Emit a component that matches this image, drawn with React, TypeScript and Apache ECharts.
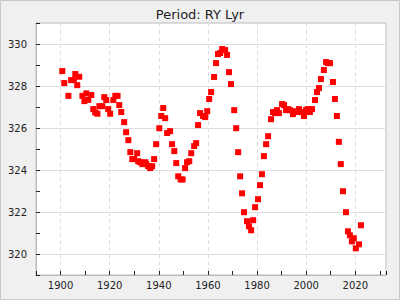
import React, { useEffect, useRef } from "react";
import * as echarts from "echarts";

const titleText = "Period: RY Lyr";

const years: number[] = [
  1900.7, 1901.5, 1903.2, 1904.3, 1905.4, 1906.0, 1906.8, 1907.6, 1908.9, 1909.7,
  1910.5, 1911.3, 1912.5, 1913.3, 1914.1, 1915.0, 1915.8, 1917.0, 1917.8, 1918.6,
  1919.4, 1920.2, 1921.5, 1922.3, 1923.2, 1923.9, 1924.7, 1925.9, 1926.7, 1927.6,
  1928.4, 1929.2, 1930.0, 1931.2, 1931.6, 1932.4, 1933.3, 1934.5, 1934.9, 1935.7,
  1936.5, 1937.3, 1938.1, 1938.9, 1940.2, 1941.0, 1941.8, 1942.6, 1943.4, 1944.6,
  1945.4, 1946.3, 1947.1, 1947.9, 1948.9, 1949.7, 1950.7, 1951.5, 1952.4, 1953.2,
  1954.4, 1955.2, 1956.0, 1956.8, 1958.0, 1958.9, 1959.7, 1960.5, 1961.3, 1962.5,
  1963.3, 1964.1, 1965.0, 1965.8, 1967.0, 1967.8, 1968.6, 1969.4, 1970.7, 1971.5,
  1972.3, 1973.1, 1973.9, 1974.7, 1975.9, 1976.7, 1977.6, 1978.4, 1979.2, 1980.4,
  1981.2, 1982.0, 1982.8, 1983.7, 1984.5, 1985.7, 1986.5, 1987.3, 1988.1, 1988.9,
  1990.2, 1991.0, 1991.8, 1992.6, 1993.4, 1994.6, 1995.4, 1996.3, 1997.1, 1997.9,
  1999.1, 1999.9, 2000.7, 2001.5, 2002.4, 2003.6, 2004.4, 2005.2, 2006.0, 2007.2,
  2008.1, 2008.9, 2009.7, 2010.9, 2011.7, 2012.5, 2013.3, 2014.1, 2015.0, 2016.2,
  2017.0, 2017.8, 2018.6, 2019.4, 2020.2, 2021.5, 2022.3,
];

const periods: number[] = [
  328.71, 328.14, 327.53, 328.28, 328.28, 328.57, 328.04, 328.44, 327.53, 327.28,
  327.65, 327.34, 327.57, 326.9, 326.74, 326.68, 327.04, 327.04, 327.47, 327.33,
  326.9, 326.68, 327.33, 327.53, 327.53, 327.09, 326.76, 326.28, 325.8, 325.42,
  324.85, 324.52, 324.52, 324.8, 324.42, 324.37, 324.28, 324.37, 324.28, 324.18,
  324.09, 324.18, 324.52, 325.23, 325.99, 326.57, 326.95, 326.47, 325.76, 325.85,
  325.23, 324.9, 324.33, 323.7, 323.55, 323.55, 324.09, 324.37, 324.42, 324.8,
  325.14, 325.28, 326.14, 326.71, 326.57, 326.52, 326.8, 327.38, 327.71, 328.43,
  329.09, 329.52, 329.57, 329.76, 329.71, 329.48, 328.66, 328.09, 326.85, 325.99,
  324.85, 323.7, 322.89, 321.99, 321.56, 321.32, 321.13, 321.61, 322.23, 322.61,
  323.28, 323.8, 324.66, 325.23, 325.61, 326.42, 326.76, 326.71, 326.85, 326.71,
  327.14, 327.09, 326.85, 326.9, 326.85, 326.66, 326.8, 326.76, 326.9, 326.76,
  326.57, 326.85, 326.9, 326.76, 326.9, 327.33, 327.71, 327.9, 328.33, 328.76,
  329.14, 329.09, 329.09, 328.19, 327.38, 326.57, 325.34, 324.28, 322.99, 321.99,
  321.08, 320.89, 320.6, 320.75, 320.27, 320.46, 321.37,
];

const xMin = 1890;
const xMax = 2032.5;
const yMin = 319;
const yMax = 331;

export default function App() {
  const ref = useRef<HTMLDivElement>(null);
  useEffect(() => {
    if (!ref.current) return;
    const chart = echarts.init(ref.current, null, { renderer: "svg" });
    const font = "DejaVu Sans";
    chart.setOption({
      animation: false,
      backgroundColor: "#f0f0f0",
      textStyle: { fontFamily: font },
      title: {
        text: titleText,
        left: "center",
        top: 3,
        textStyle: { fontFamily: font, fontSize: 13, fontWeight: "normal", color: "#222" },
      },
      graphic: [
        {
          type: "rect",
          shape: { x: 0.5, y: 0.5, width: 399, height: 299 },
          style: { fill: "none", stroke: "#c8c8c8", lineWidth: 1 },
          silent: true,
        },
      ],
      grid: {
        left: 36,
        right: 14,
        top: 23,
        bottom: 25,
        show: true,
        backgroundColor: "#ffffff",
        borderColor: "#bbbbbb",
        borderWidth: 1,
      },
      xAxis: {
        type: "value",
        min: xMin,
        max: xMax,
        interval: 10,
        axisLine: { show: true, lineStyle: { color: "#bbbbbb" } },
        axisTick: { show: true, inside: true, length: 4, lineStyle: { color: "#222" } },
        axisLabel: {
          color: "#222",
          fontFamily: font,
          fontSize: 10,
          margin: 5,
          formatter: (v: number) => (Math.abs(v % 20) < 1e-6 ? String(v) : ""),
        },
        splitLine: {
          show: true,
          lineStyle: { color: ["rgba(0,0,0,0)", "#dddddd"], type: [4, 3], width: 1 },
        },
      },
      yAxis: {
        type: "value",
        min: yMin,
        max: yMax,
        interval: 1,
        axisLine: { show: true, lineStyle: { color: "#bbbbbb" } },
        axisTick: { show: true, inside: true, length: 4, lineStyle: { color: "#222" } },
        axisLabel: {
          color: "#222",
          fontFamily: font,
          fontSize: 10,
          margin: 9,
          formatter: (v: number) => (Math.abs(v % 2) < 1e-6 ? String(v) : ""),
        },
        splitLine: {
          show: true,
          lineStyle: { color: ["rgba(0,0,0,0)", "#dddddd"], width: 1 },
        },
      },
      series: [
        {
          type: "scatter",
          symbol: "rect",
          symbolSize: 6,
          itemStyle: { color: "#ff0000", opacity: 1 },
          data: years.map((y, i) => [y, periods[i]]),
        },
      ],
    });
    return () => chart.dispose();
  }, []);
  return <div ref={ref} style={{ width: 400, height: 300, position: "absolute", left: 0, top: 0 }} />;
}
